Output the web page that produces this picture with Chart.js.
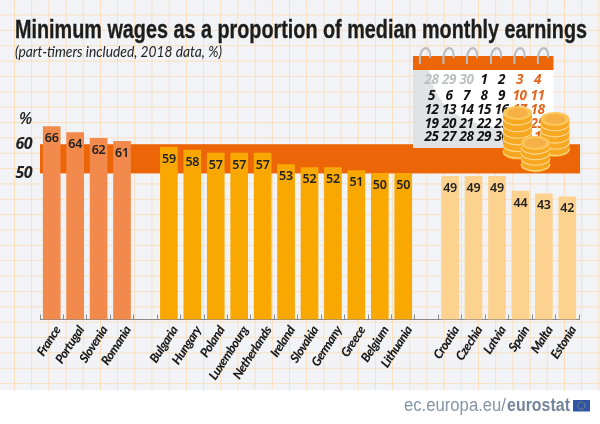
<!DOCTYPE html>
<html>
<head>
<meta charset="utf-8">
<title>Minimum wages</title>
<script src="https://cdn.jsdelivr.net/npm/chart.js@4"></script>
<style>
  html, body { margin: 0; padding: 0; background: #fff; overflow: hidden; }
  #wrap { position: relative; width: 600px; height: 424px; background: #fff; }
  #paper {
    position: absolute; left: 0; top: 0; width: 600px; height: 390px;
    background-color: #f1f3f7;
    background-image:
      linear-gradient(to right, #fadfbd 1px, transparent 1px),
      linear-gradient(to bottom, #fadfbd 1px, transparent 1px);
    background-size: 17.2px 15.37px;
    background-position: 14px 14.5px;
  }
  canvas { position: absolute; left: 0; top: 0; }
  svg { position: absolute; left: 0; top: 0; }
</style>
</head>
<body>
<div id="wrap">
  <div id="paper"></div>
  <canvas id="wages" width="600" height="424"></canvas>
  <svg id="overlay" width="600" height="424" xmlns="http://www.w3.org/2000/svg"></svg>
</div>
<script>
// blank entries are the gaps between the three groups
const categories = ['France', 'Portugal', 'Slovenia', 'Romania', '',
  'Bulgaria', 'Hungary', 'Poland', 'Luxembourg', 'Netherlands', 'Ireland', 'Slovakia', 'Germany', 'Greece', 'Belgium', 'Lithuania', '',
  'Croatia', 'Czechia', 'Latvia', 'Spain', 'Malta', 'Estonia'];
const wages = [66, 64, 62, 61, null,
  59, 58, 57, 57, 57, 53, 52, 52, 51, 50, 50, null,
  49, 49, 49, 44, 43, 42];
const shownTicks = [50, 60];
const band = [50, 60];

const calendarRows = [
  ['28', '29', '30', '1', '2', '3', '4'],
  ['5', '6', '7', '8', '9', '10', '11'],
  ['12', '13', '14', '15', '16', '17', '18'],
  ['19', '20', '21', '22', '23', '24', '25'],
  ['25', '27', '28', '29', '30', '31', '1']
];

function barColor(i) {
  if (i < 5) return '#f18a4c';
  if (i < 17) return '#f8a800';
  return '#fdd28e';
}

// orange 50-60 band behind the bars, and the value labels inside them
const wagePlugin = {
  id: 'wagePlugin',
  beforeDraw(chart) {
    // the tick labels are condensed in the original
    chart.ctx.letterSpacing = '-0.5px';
  },
  beforeDatasetsDraw(chart) {
    const { ctx, scales, chartArea } = chart;
    const top = scales.y.getPixelForValue(band[1]);
    const bottom = scales.y.getPixelForValue(band[0]);
    ctx.save();
    ctx.fillStyle = '#ec6608';
    ctx.fillRect(chartArea.left, top, chartArea.right - chartArea.left + 1, bottom - top);
    ctx.restore();
  },
  afterDatasetsDraw(chart) {
    const { ctx } = chart;
    ctx.save();
    ctx.letterSpacing = '-0.2px';
    ctx.fillStyle = '#222';
    ctx.font = '600 12.5px "Noto Sans"';
    ctx.textAlign = 'center';
    ctx.textBaseline = 'middle';
    chart.getDatasetMeta(0).data.forEach((bar, i) => {
      if (wages[i] == null) return;
      ctx.fillText(wages[i], bar.x, bar.y + 12);
    });
    ctx.restore();
  }
};

new Chart(document.getElementById('wages').getContext('2d'), {
  type: 'bar',
  data: {
    labels: categories,
    datasets: [{
      data: wages,
      backgroundColor: categories.map((c, i) => barColor(i)),
      barThickness: 17,
      borderWidth: 0
    }]
  },
  options: {
    responsive: false,
    animation: false,
    devicePixelRatio: 1,
    layout: { padding: { top: 115, right: 21, left: 0, bottom: 0 } },
    plugins: { legend: { display: false }, tooltip: { enabled: false } },
    scales: {
      x: {
        afterFit(scale) { scale.height = 104.5; },
        grid: { drawOnChartArea: false, tickLength: -5, color: '#8a8a8a', lineWidth: 1 },
        border: { color: '#8a8a8a', width: 1 },
        ticks: {
          autoSkip: false,
          minRotation: 57,
          maxRotation: 57,
          padding: 9,
          labelOffset: 6,
          color: '#1a1a1a',
          font: { family: 'Lato', size: 12.5, weight: '900', style: 'italic' }
        }
      },
      y: {
        min: 0,
        max: 70,
        afterFit(scale) { scale.width = 40; },
        grid: { display: false },
        border: { display: false },
        ticks: {
          stepSize: 10,
          padding: 0,
          color: '#222',
          font: { family: '"Open Sans"', size: 16, weight: 'bold', style: 'italic' },
          callback: v => shownTicks.includes(v) ? v : ''
        }
      }
    }
  },
  plugins: [wagePlugin]
});

// text and calendar illustration on top of the chart
const dateCols = [431.5, 449, 466.5, 484, 501.5, 519.5, 537.5];
const dateRows = [84, 99.5, 113.5, 127.5, 141];
let svg = '';

svg += '<text x="15" y="38" textLength="572" lengthAdjust="spacingAndGlyphs" font-family="Liberation Sans" font-weight="bold" font-size="26.5" stroke="#1d1d1b" stroke-width="0.35" fill="#1d1d1b">Minimum wages as a proportion of median monthly earnings</text>';
svg += '<text x="15" y="57" textLength="207" lengthAdjust="spacingAndGlyphs" font-family="Lato" font-style="italic" font-size="15.5" fill="#222">(part-timers included, 2018 data, %)</text>';
svg += '<text x="19" y="124" font-family="Open Sans" font-style="italic" font-weight="600" font-size="16" fill="#222">%</text>';

// calendar
svg += '<rect x="413" y="56" width="140.5" height="92" fill="#fff"/>';
svg += '<path d="M413 70 H429 C436 105 455 122 500 128 L512 148 H413 Z" fill="#e1e2e4"/>';
svg += '<rect x="413" y="56" width="140.5" height="14" fill="#ec6608"/>';
[424, 447.5, 471, 495, 518.5, 542].forEach(x => {
  svg += `<path d="M${x - 4} 64 C${x - 6} 44 ${x + 8} 44 ${x + 6} 58" fill="none" stroke="#b9bbbe" stroke-width="2"/>`;
});
calendarRows.forEach((row, r) => row.forEach((d, c) => {
  let fill = '#111';
  if (r === 0 && c < 3) fill = '#bdbfc1';
  if (c > 4) fill = '#e2651c';
  svg += `<text x="${dateCols[c]}" y="${dateRows[r]}" text-anchor="middle" letter-spacing="-0.4" font-family="Open Sans" font-style="italic" font-weight="bold" font-size="13.5" fill="${fill}">${d}</text>`;
}));

// coins: stacks are drawn bottom coin first
function coinStack(cx, topY, count, step) {
  const rx = 14.5, ry = 7;
  let out = '';
  for (let i = count - 1; i >= 0; i--) {
    const y = topY + i * step;
    out += `<path d="M${cx - rx} ${y} V${y + step} A${rx} ${ry} 0 0 0 ${cx + rx} ${y + step} V${y} Z" fill="#f7a823"/>`;
    out += `<path d="M${cx - rx} ${y + step - 1.5} A${rx} ${ry} 0 0 0 ${cx + rx} ${y + step - 1.5}" fill="none" stroke="#fdd98f" stroke-width="1.1"/>`;
  }
  out += `<ellipse cx="${cx}" cy="${topY}" rx="${rx}" ry="${ry}" fill="#fcc65a"/>`;
  out += `<ellipse cx="${cx}" cy="${topY}" rx="${rx - 4}" ry="${ry - 2}" fill="#f6b045"/>`;
  return out;
}
svg += coinStack(517.5, 113, 6, 6.6);
svg += coinStack(555, 119, 5, 6.2);
svg += coinStack(535.5, 143, 4, 5.6);

// footer
svg += '<text x="404" y="411" textLength="102" lengthAdjust="spacingAndGlyphs" font-family="Liberation Sans" font-size="18" fill="#8594a8">ec.europa.eu/</text>';
svg += '<text x="507" y="411" textLength="63" lengthAdjust="spacingAndGlyphs" font-family="Liberation Sans" font-weight="bold" font-size="18" fill="#73859b">eurostat</text>';
svg += '<rect x="573" y="400" width="17" height="11.5" fill="#2f56a6"/>';
svg += '<circle cx="581.5" cy="405.7" r="3.6" fill="none" stroke="#d8c65a" stroke-width="0.8" stroke-dasharray="0.9 1"/>';

document.getElementById('overlay').innerHTML = svg;
</script>
</body>
</html>
